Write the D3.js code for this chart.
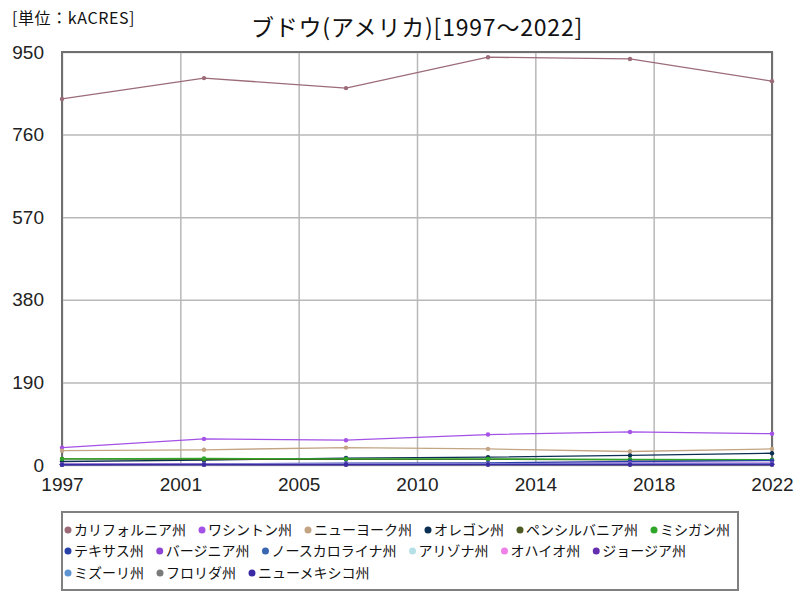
<!DOCTYPE html>
<html><head><meta charset="utf-8">
<script src="https://cdn.jsdelivr.net/npm/d3@7"></script>
<style>
body{margin:0;background:#fff;}
svg{display:block;}
</style></head>
<body><svg id="c" width="800" height="600"></svg>
<script>
const years = [1997, 2002, 2007, 2012, 2017, 2022];
const seriesNames = ["カリフォルニア州","ワシントン州","ニューヨーク州","オレゴン州","ペンシルバニア州","ミシガン州","テキサス州","バージニア州","ノースカロライナ州","アリゾナ州","オハイオ州","ジョージア州","ミズーリ州","フロリダ州","ニューメキシコ州"];
const california = [842, 890, 867, 938, 934, 883];
const washington = [40, 60, 57, 70, 76, 72];
const newYork = [33, 35, 40, 37, 31, 37];
const oregon = [8, 11, 16, 18, 22, 27];
const pennsylvania = [14, 13, 13, 13, 12, 11];
const michigan = [14, 15, 14, 14, 13, 12];
const texas = [2, 3, 4, 5, 8, 10];
const virginia = [2, 2, 3, 3, 4, 4];
const northCarolina = [1, 2, 2, 2, 2, 2];
const arizona = [0.5, 0.6, 1, 1, 1.5, 2];
const ohio = [2, 2, 2, 2, 2, 2];
const georgia = [1, 1, 1, 1.5, 1.5, 1.5];
const missouri = [1.5, 1.5, 2, 2, 2, 2];
const florida = [0.8, 0.7, 0.8, 0.8, 0.8, 0.8];
const newMexico = [0.6, 0.8, 1, 1, 1, 1.2];
const seriesValues = [california, washington, newYork, oregon, pennsylvania, michigan, texas, virginia, northCarolina, arizona, ohio, georgia, missouri, florida, newMexico];
const colors = ["#9b6b78","#a451e6","#c3a584","#0b2f52","#4d5a24","#2fa52a","#2741a8","#8e45d6","#3a66b0","#b5e1e6","#ee80e8","#6530b0","#5f94d3","#7a7a7a","#3a2aa5"];
const yTicks = [0, 190, 380, 570, 760, 950];
const xTickLabels = ["1997","2001","2005","2010","2014","2018","2022"];
const titleText = "ブドウ(アメリカ)[1997～2022]";
const unitText = "[単位：kACRES]";

const svg = d3.select("#c");
const L = 62, R = 772, T = 52, B = 465;
const x = d3.scaleLinear().domain([1997, 2022]).range([L, R]);
const y = d3.scaleLinear().domain([0, 950]).range([B, T]);
const xTickVals = xTickLabels.map((_, i) => 1997 + i * 25 / 6);
const jp = "'Noto Sans CJK JP', sans-serif";
const num = "'Liberation Sans Narrow', 'Liberation Sans', sans-serif";

// grid
const gy = svg.append("g").attr("transform", `translate(${L},0)`)
  .call(d3.axisLeft(y).tickValues(yTicks).tickSize(-(R - L)).tickFormat(""));
gy.select(".domain").remove();
gy.selectAll("line").attr("stroke", "#b8b8b8").attr("stroke-width", 1.5);
const gx = svg.append("g").attr("transform", `translate(0,${B})`)
  .call(d3.axisBottom(x).tickValues(xTickVals).tickSize(-(B - T)).tickFormat(""));
gx.select(".domain").remove();
gx.selectAll("line").attr("stroke", "#b8b8b8").attr("stroke-width", 1.5);

// tick labels
const yl = svg.append("g").attr("transform", `translate(${L},0)`)
  .call(d3.axisLeft(y).tickValues(yTicks).tickSize(0).tickPadding(18).tickFormat(d3.format("d")));
yl.select(".domain").remove();
yl.selectAll("text").attr("font-family", num).attr("font-size", 19).attr("fill", "#222");
const xl = svg.append("g").attr("transform", `translate(0,${B})`)
  .call(d3.axisBottom(x).tickValues(xTickVals).tickSize(0).tickPadding(13).tickFormat((d, i) => xTickLabels[i]));
xl.select(".domain").remove();
xl.selectAll("text").attr("font-family", num).attr("font-size", 19).attr("fill", "#222");

// border
svg.append("rect").attr("x", L).attr("y", T).attr("width", R - L).attr("height", B - T)
  .attr("fill", "none").attr("stroke", "#707070").attr("stroke-width", 2);

// lines
const line = d3.line().x((d, i) => x(years[i])).y(d => y(d));
seriesValues.forEach((vals, k) => {
  const g = svg.append("g");
  g.append("path").datum(vals).attr("d", line).attr("fill", "none")
    .attr("stroke", colors[k]).attr("stroke-width", 1.3);
  g.selectAll("circle").data(vals).join("circle")
    .attr("cx", (d, i) => x(years[i])).attr("cy", d => y(d)).attr("r", 2.2)
    .attr("fill", colors[k]);
});

// titles
svg.append("text").attr("x", (L + R) / 2).attr("y", 36).attr("text-anchor", "middle")
  .attr("font-family", jp).attr("font-size", 23).attr("letter-spacing", 0.8)
  .attr("fill", "#111").text(titleText);
svg.append("text").attr("x", 12).attr("y", 24)
  .attr("font-family", jp).attr("font-size", 16).attr("letter-spacing", 0.6)
  .attr("fill", "#111").text(unitText);

// legend
svg.append("rect").attr("x", 62).attr("y", 512).attr("width", 676).attr("height", 78)
  .attr("fill", "#fff").attr("stroke", "#808080").attr("stroke-width", 2);
const rows = [[0,1,2,3,4,5],[6,7,8,9,10,11],[12,13,14]];
const rowY = [530, 551, 573];
rows.forEach((row, r) => {
  let cx = 68;
  row.forEach(k => {
    svg.append("circle").attr("cx", cx).attr("cy", rowY[r]).attr("r", 3.5).attr("fill", colors[k]);
    const t = svg.append("text").attr("x", cx + 6).attr("y", rowY[r] + 5)
      .attr("font-family", jp).attr("font-size", 14).attr("fill", "#111").text(seriesNames[k]);
    cx = cx + 6 + t.node().getComputedTextLength() + 16;
  });
});
</script></body></html>
